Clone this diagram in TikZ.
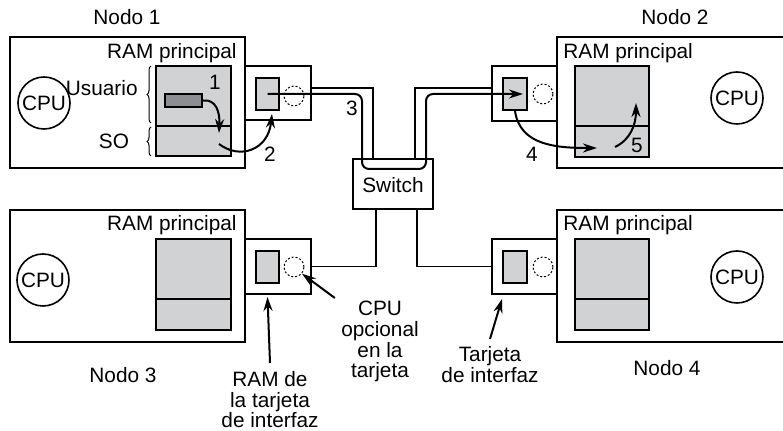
\documentclass[tikz,border=0pt]{standalone}
\usepackage{fontspec}
\setmainfont{Liberation Sans}
\usetikzlibrary{arrows.meta,fit,decorations.pathreplacing}
\definecolor{ramgray}{RGB}{209,210,212}
\definecolor{bargray}{RGB}{140,142,145}
\tikzset{
  box/.style={draw, line width=1pt, inner sep=0pt, fill=white},
  ram/.style={box, fill=ramgray},
  cpu/.style={draw, circle, line width=0.8pt, minimum size=26pt, inner sep=0pt},
  optcpu/.style={draw, circle, dash pattern=on 1pt off 1pt, line width=0.5pt, minimum size=10pt, inner sep=0pt},
  wire/.style={line width=0.8pt},
  flow/.style={line width=1pt, -{Stealth[length=7pt,width=4.5pt]}},
  brc/.style={decorate, decoration={brace, amplitude=2pt}, line width=0.5pt},
}
\begin{document}
\begin{tikzpicture}[x=0.5pt, y=-0.5pt, inner sep=0pt, font=\fontsize{10.4}{10.3}\selectfont]
\useasboundingbox (0,0) rectangle (783,431);
\clip (0,0) rectangle (783,431);
% Nodo 1
\node[box, fit={(10,37) (245,168)}] (n1) {};
\node[anchor=base] (t1) at (127,25) {Nodo 1};
\node[anchor=base east] (r1) at (237,59) {RAM principal};
\node[ram, fit={(156,66) (231,156)}] (m1) {};
\draw[line width=1pt] (156,126) -- (231,126);
\node[cpu] (p1) at (44,103) {CPU};
\draw[brc] (151,123) -- (151,66);
\draw[brc] (151,156) -- (151,127);
\node[anchor=base east] (us) at (138,96) {Usuario};
\node[anchor=base] (so) at (114,149) {SO};
\node[box, fill=bargray, fit={(165,94) (202,107)}] (bar) {};
\node[anchor=base] (k1) at (215,90) {1};
\node[anchor=base] (k2) at (270,162) {2};
\node[box, fit={(245,66) (311,120)}] (c1) {};
\node[ram, fit={(256,78) (279,110)}] (cr1) {};
\node[optcpu] (o1) at (294,96) {};
% Nodo 2
\node[box, fit={(557,37) (800,168)}] (n2) {};
\node[anchor=base] (t2) at (675,25) {Nodo 2};
\node[anchor=base west] (r2) at (563,59) {RAM principal};
\node[ram, fit={(575,66) (649,157)}] (m2) {};
\draw[line width=1pt] (575,126) -- (649,126);
\node[cpu] (p2) at (737,98) {CPU};
\node[box, fit={(492,66) (557,121)}] (c2) {};
\node[ram, fit={(503,78) (527,110)}] (cr2) {};
\node[optcpu] (o2) at (543,94) {};
\node[anchor=base] (k4) at (532,162) {4};
\node[anchor=base] (k5) at (637,153) {5};
% Nodo 3
\node[box, fit={(10,210) (245,342)}] (n3) {};
\node[anchor=base] (t3) at (123,383) {Nodo 3};
\node[anchor=base east] (r3) at (237,231) {RAM principal};
\node[ram, fit={(156,239) (231,330)}] (m3) {};
\draw[line width=1pt] (156,299) -- (231,299);
\node[cpu] (p3) at (43,280) {CPU};
\node[box, fit={(245,239) (311,294)}] (c3) {};
\node[ram, fit={(256,251) (279,283)}] (cr3) {};
\node[optcpu] (o3) at (294,267) {};
% Nodo 4
\node[box, fit={(557,210) (800,342)}] (n4) {};
\node[anchor=base] (t4) at (667,376) {Nodo 4};
\node[anchor=base west] (r4) at (563,231) {RAM principal};
\node[ram, fit={(575,239) (649,330)}] (m4) {};
\draw[line width=1pt] (575,299) -- (649,299);
\node[cpu] (p4) at (737,277) {CPU};
\node[box, fit={(492,239) (557,294)}] (c4) {};
\node[ram, fit={(503,251) (527,283)}] (cr4) {};
\node[optcpu] (o4) at (543,267) {};
% switch y cables
\node[box, fit={(353,159) (433,209)}] (sw) {};
\node[anchor=base] (swt) at (393,193) {Switch};
\coordinate (w1) at (311,88);
\coordinate (w2) at (492,88);
\draw[wire] (w1) -| (sw.north -| 373,0);
\draw[wire] (w2) -| (sw.north -| 415,0);
\draw[wire] (sw.south -| 376,0) |- (c3.east);
\draw[wire] (sw.south -| 417,0) |- (c4.west);
\node[anchor=base] (k3) at (352,116) {3};
% flujo del mensaje
\draw[flow] (bar.east) .. controls (216,99) and (220,112) .. (219,133);
\draw[flow] (219,144) .. controls (240,160) and (268,150) .. (272,114);
\draw[flow, rounded corners=3.5pt] (cr1.center) -- (362,94) -- (362,169) -- (426,169) -- (426,94) -- (523,94);
\draw[flow] (cr2.south) .. controls (520,145) and (555,148) .. (597,148);
\draw[flow] (615,147) .. controls (630,140) and (636,125) .. (636,103);
% rotulos de abajo
\node[anchor=north, align=center] (lr) at (270,371) {RAM de\\la tarjeta\\de interfaz};
\node[anchor=north, align=center] (lo) at (380,301) {CPU\\opcional\\en la\\tarjeta};
\node[anchor=north, align=center] (lt) at (490,346) {Tarjeta\\de interfaz};
\draw[flow] ([yshift=4pt]lr.north) -- ([yshift=-1pt]cr3.south |- c3.south);
\draw[flow] ([shift={(-3pt,1.5pt)}]lo.north west) -- (o3.-40);
\draw[flow] ([yshift=3.5pt]lt.north) -- ([xshift=5.5pt,yshift=-2pt]c4.south west);
\end{tikzpicture}
\end{document}
